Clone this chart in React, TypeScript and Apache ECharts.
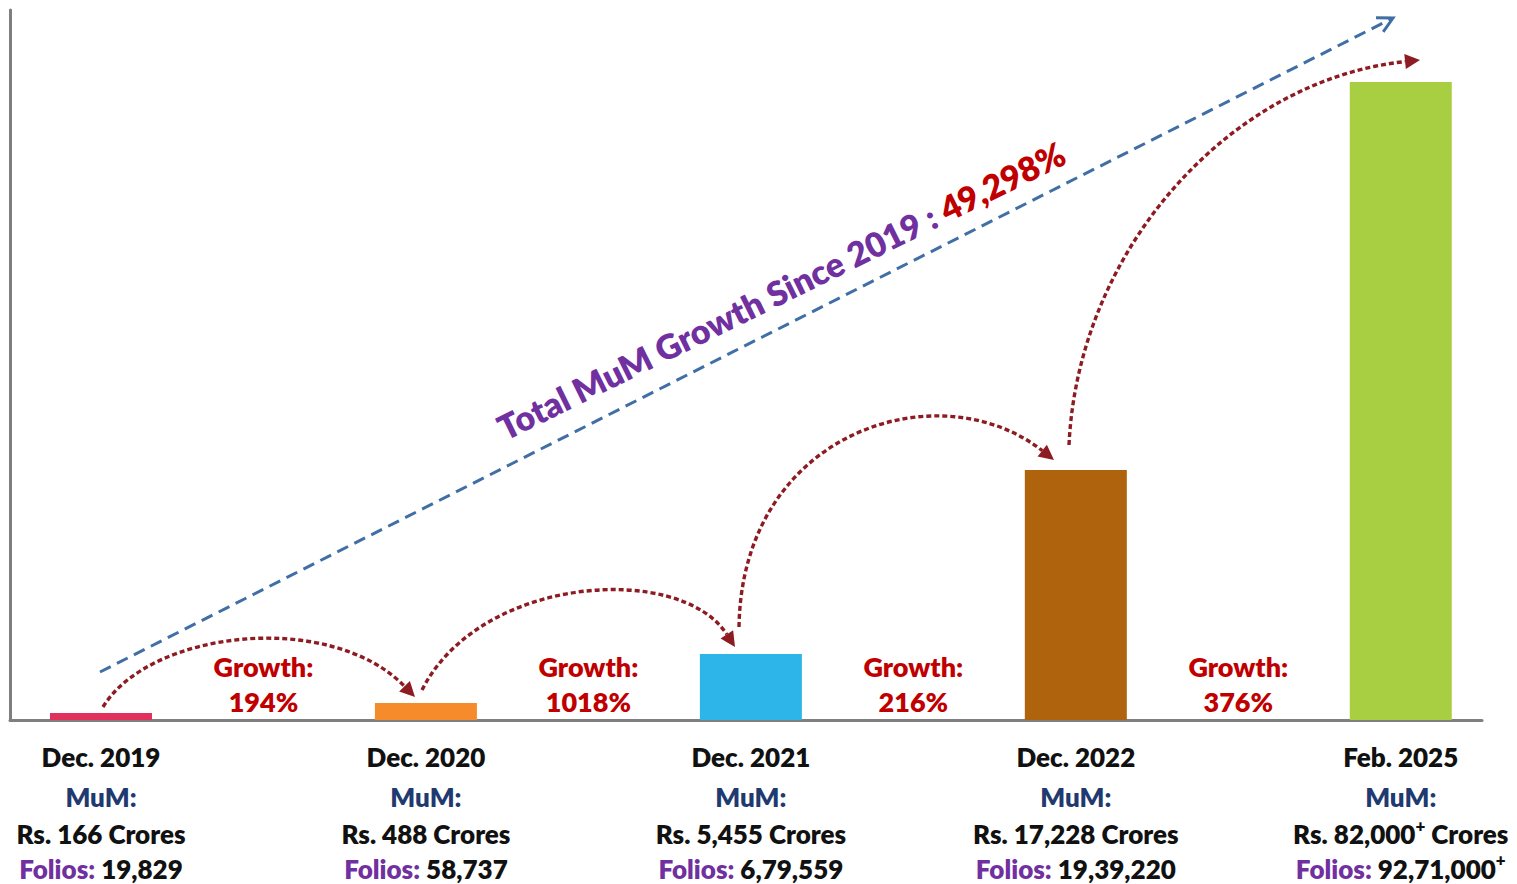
import React, { useEffect, useRef } from "react";
import * as echarts from "echarts";

// ---- data ----
const categories = ["Dec. 2019", "Dec. 2020", "Dec. 2021", "Dec. 2022", "Feb. 2025"];
// bar heights as drawn in the picture (relative display units)
const barHeights = [7, 17, 66, 250, 638];
const mumValues = ["166", "488", "5,455", "17,228", "82,000"];
const mumPlus = [false, false, false, false, true];
const folioValues = ["19,829", "58,737", "6,79,559", "19,39,220", "92,71,000"];
const folioPlus = [false, false, false, false, true];
const growthLabels = ["194%", "1018%", "216%", "376%"];
const totalGrowthText = "Total MuM Growth Since 2019 : ";
const totalGrowthValue = "49,298%";
const barColors = ["#E2305C", "#F68B2C", "#2DB5E9", "#AF630C", "#A7CF41"];

const FONT = "Lato, 'Noto Sans', 'DejaVu Sans', sans-serif";
const W = 800;
const RED = "#C00000";
const PURPLE = "#7030A0";
const NAVY = "#1F3A70";
const ARROW_RED = "#8E1B22";
const ARROW_BLUE = "#3F6FA5";
const LABEL_SIZE = 26;

// decorative arrow geometry (pixels)
const curvedArrows = [
  { p0: [103, 707], c1: [150, 630], c2: [330, 610], p1: [415, 697] },
  { p0: [422, 690], c1: [480, 575], c2: [680, 562], p1: [735, 647] },
  { p0: [739, 627], c1: [742, 430], c2: [940, 370], p1: [1054, 460] },
  { p0: [1069, 445], c1: [1078, 250], c2: [1230, 80], p1: [1420, 60] },
];
const blueArrow = { p0: [100, 672], p1: [1393, 18] };

function buildArrowGraphics(): any[] {
  const out: any[] = [];
  curvedArrows.forEach((a) => {
    const dx = a.p1[0] - a.c2[0];
    const dy = a.p1[1] - a.c2[1];
    const len = Math.hypot(dx, dy);
    const ux = dx / len;
    const uy = dy / len;
    const headLen = 15;
    const headW = 7.5;
    const bx = a.p1[0] - ux * headLen;
    const by = a.p1[1] - uy * headLen;
    out.push({
      type: "bezierCurve",
      shape: {
        x1: a.p0[0], y1: a.p0[1], x2: bx, y2: by,
        cpx1: a.c1[0], cpy1: a.c1[1], cpx2: a.c2[0], cpy2: a.c2[1],
      },
      style: { stroke: ARROW_RED, lineWidth: 3.4, lineDash: [5, 3], fill: null },
      z: 10,
    });
    out.push({
      type: "polygon",
      shape: {
        points: [
          [a.p1[0], a.p1[1]],
          [bx - uy * headW, by + ux * headW],
          [bx + uy * headW, by - ux * headW],
        ],
      },
      style: { fill: ARROW_RED },
      z: 10,
    });
  });
  // blue dashed straight arrow
  const b = blueArrow;
  const dx = b.p1[0] - b.p0[0];
  const dy = b.p1[1] - b.p0[1];
  const len = Math.hypot(dx, dy);
  const ux = -dx / len;
  const uy = -dy / len;
  const ang = (28 * Math.PI) / 180;
  const armLen = 17;
  const rot = (x: number, y: number, t: number) => [x * Math.cos(t) - y * Math.sin(t), x * Math.sin(t) + y * Math.cos(t)];
  const a1 = rot(ux, uy, ang);
  const a2 = rot(ux, uy, -ang);
  out.push({
    type: "line",
    shape: { x1: b.p0[0], y1: b.p0[1], x2: b.p1[0] + ux * 2, y2: b.p1[1] + uy * 2 },
    style: { stroke: ARROW_BLUE, lineWidth: 3, lineDash: [12, 7] },
    z: 9,
  });
  out.push({
    type: "polyline",
    shape: {
      points: [
        [b.p1[0] + a1[0] * armLen, b.p1[1] + a1[1] * armLen],
        [b.p1[0], b.p1[1]],
        [b.p1[0] + a2[0] * armLen, b.p1[1] + a2[1] * armLen],
      ],
    },
    style: { stroke: ARROW_BLUE, lineWidth: 3, fill: null },
    z: 9,
  });
  return out;
}

export default function App() {
  const ref = useRef<HTMLDivElement>(null);

  useEffect(() => {
    document.body.style.margin = "0";
    if (!ref.current) return;
    const chart = echarts.init(ref.current, undefined, { renderer: "svg" });

    const axisLineStyle = { color: "#7F7F7F", width: 3 };
    const tok = (color: string, lineHeight: number) => ({
      fontFamily: FONT, fontSize: LABEL_SIZE, fontWeight: W, color, lineHeight,
    });

    const option: any = {
      animation: false,
      backgroundColor: "#ffffff",
      textStyle: { fontFamily: FONT },
      grid: { left: 10, right: 35, top: 10, bottom: 164, containLabel: false },
      xAxis: {
        type: "value",
        min: -0.28,
        max: 4.25,
        axisLine: { show: true, onZero: false, lineStyle: axisLineStyle },
        axisTick: { show: false },
        splitLine: { show: false },
        axisLabel: {
          show: true,
          customValues: [0, 1, 2, 3, 4],
          margin: 17,
          fontFamily: FONT,
          fontWeight: W,
          formatter: (v: number) => {
            const i = Math.round(v);
            const mp = mumPlus[i] ? "{sup|+}" : "";
            const fp = folioPlus[i] ? "{sup|+}" : "";
            return (
              `{d|${categories[i]}}\n` +
              `{m|MuM:}\n` +
              `{r|Rs. ${mumValues[i]}}${mp}{r| Crores}\n` +
              `{f|Folios: }{n|${folioValues[i]}}${fp}`
            );
          },
          rich: {
            d: tok("#111111", 40),
            m: tok(NAVY, 40),
            r: tok("#111111", 34),
            f: tok(PURPLE, 36),
            n: tok("#111111", 36),
            sup: { fontFamily: FONT, fontSize: 17, fontWeight: W, color: "#111111", lineHeight: 17, verticalAlign: "top" },
          },
        },
      },
      yAxis: {
        type: "value",
        min: 0,
        max: 710,
        axisLine: { show: true, onZero: false, lineStyle: axisLineStyle },
        axisTick: { show: false },
        axisLabel: { show: false },
        splitLine: { show: false },
      },
      series: [
        {
          type: "bar",
          barWidth: 102,
          data: barHeights.map((h, i) => ({ value: [i, h], itemStyle: { color: barColors[i] } })),
        },
      ],
    };
    chart.setOption(option);

    const px = (x: number, y: number) => chart.convertToPixel({ gridIndex: 0 }, [x, y]) as number[];

    const graphics: any[] = [];
    growthLabels.forEach((g, i) => {
      const cx = px(i + 0.5, 0)[0];
      graphics.push({
        type: "text",
        x: cx,
        y: 666,
        style: { text: "Growth:", fill: RED, font: `${W} 27px ${FONT}`, align: "center", verticalAlign: "middle" },
        z: 5,
      });
      graphics.push({
        type: "text",
        x: cx,
        y: 701,
        style: { text: g, fill: RED, font: `${W} 27px ${FONT}`, align: "center", verticalAlign: "middle" },
        z: 5,
      });
    });

    graphics.push({
      type: "text",
      x: 781,
      y: 290,
      rotation: (26.3 * Math.PI) / 180,
      style: {
        text: `{a|${totalGrowthText}}{b|${totalGrowthValue}}`,
        font: `${W} 34px ${FONT}`,
        align: "center",
        verticalAlign: "middle",
        rich: {
          a: { fontFamily: FONT, fontSize: 34, fontWeight: W, fill: PURPLE, color: PURPLE },
          b: { fontFamily: FONT, fontSize: 34, fontWeight: W, fill: RED, color: RED },
        },
      },
      z: 8,
    });

    graphics.push(...buildArrowGraphics());

    chart.setOption({ graphic: graphics });

    return () => {
      chart.dispose();
    };
  }, []);

  return <div ref={ref} style={{ width: 1517, height: 884 }} />;
}
